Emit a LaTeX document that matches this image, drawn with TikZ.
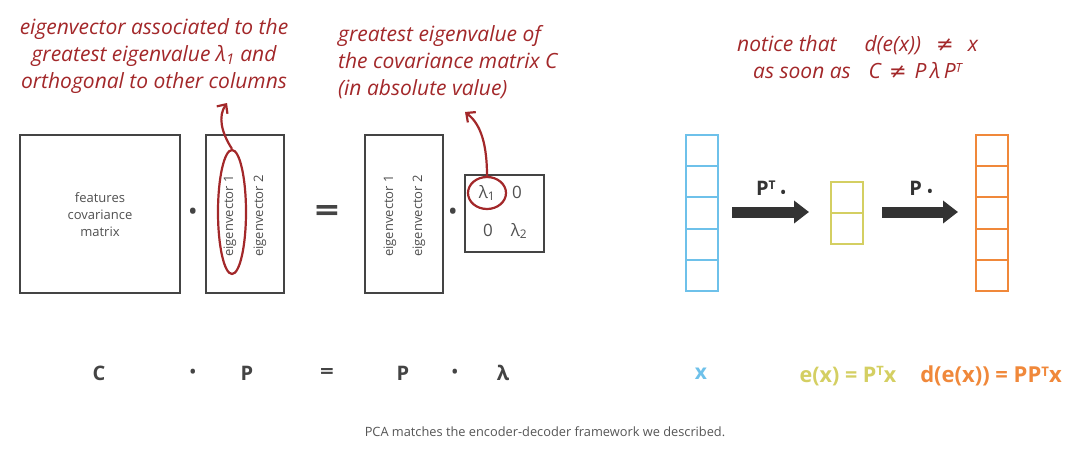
\documentclass[tikz,border=0pt]{standalone}
\usepackage{fontspec}
\setmainfont{Open Sans}
\newfontfamily\dejavu{DejaVu Sans}
\usetikzlibrary{arrows.meta,shapes.geometric,calc}
\definecolor{boxgray}{HTML}{444444}
\definecolor{txtgray}{HTML}{505050}
\definecolor{annot}{HTML}{A3282A}
\definecolor{xblue}{HTML}{6EC1EA}
\definecolor{eyellow}{HTML}{D4CF62}
\definecolor{dorange}{HTML}{F0883A}
\definecolor{arrowgray}{HTML}{333333}
\definecolor{capgray}{HTML}{555555}
\newcommand{\supT}{\raisebox{0.55ex}{\scalebox{0.6}{T}}}
\begin{document}
\begin{tikzpicture}[x=1pt,y=-1pt,
  mbox/.style={draw=boxgray, line width=1.8pt, rectangle, inner sep=0pt},
  boxtxt/.style={text=txtgray, font=\fontsize{13}{17}\selectfont, align=center, inner sep=0pt},
  eigtxt/.style={text=txtgray, font=\fontsize{13}{15}\selectfont, rotate=90, inner sep=0pt},
  entry/.style={text=txtgray, font=\fontsize{17}{20}\selectfont, inner sep=0pt},
  formula/.style={text=boxgray, font=\fontsize{20}{24}\bfseries\selectfont, inner sep=0pt},
  hand/.style={text=annot, font=\fontsize{21}{27}\itshape\selectfont, inner sep=0pt},
  redarrow/.style={annot, line width=2.2pt, -{Straight Barb[length=7pt,width=13pt,line width=2.2pt]}},
  col/.style={rectangle, line width=1.6pt, minimum width=32pt, inner sep=0pt},
  bigarrow/.style={arrowgray, line width=11pt, -{Triangle[length=15pt,width=22pt]}},
  arrlabel/.style={text=arrowgray, font=\fontsize{20}{22}\bfseries\selectfont, inner sep=0pt},
  dotsym/.style={text=boxgray, font=\fontsize{20}{22}\bfseries\selectfont, inner sep=0pt}
]
\useasboundingbox (0,0) rectangle (1080,450);
\fill[white] (0,0) rectangle (1080,450);

% ---------- left equation boxes ----------
\node[mbox, minimum width=160pt, minimum height=158pt] (box1) at (100,214) {};
\node[boxtxt] (box1t) at (100,215) {features\\covariance\\matrix};
\node[dotsym] (dot1) at (193,213) {•};
\node[mbox, minimum width=78pt, minimum height=158pt] (box2) at (245,214) {};
\node[eigtxt] (e21) at (230,216) {eigenvector 1};
\node[eigtxt] (e22) at (260,216) {eigenvector 2};
\node[text=boxgray, font=\fontsize{34}{36}\bfseries\selectfont, inner sep=0pt] (eq) at (327,214) {\scalebox{1.25}[1]{=}};
\node[mbox, minimum width=78pt, minimum height=158pt] (box3) at (404,214) {};
\node[eigtxt] (e31) at (390,216) {eigenvector 1};
\node[eigtxt] (e32) at (419,216) {eigenvector 2};
\node[dotsym] (dot2) at (453,213) {•};
\node[mbox, minimum width=79pt, minimum height=77pt] (box4) at (504.5,213.5) {};
\node[entry] (l1) at (487,193) {λ\textsubscript{1}};
\node[entry] (z1) at (517,192) {0};
\node[entry] (z2) at (488,230) {0};
\node[entry] (l2) at (519,231) {λ\textsubscript{2}};

% ---------- red annotations ----------
\node[draw=annot, line width=2.2pt, ellipse, minimum width=28pt, minimum height=124pt, inner sep=0pt] (ell) at (232,212) {};
\node[draw=annot, line width=2.2pt, ellipse, minimum width=38pt, minimum height=32pt, inner sep=0pt] (circ) at (487,193) {};
\node[hand, align=center] (ann1) at (154,56) {eigenvector associated to the\\greatest eigenvalue λ\textsubscript{1} and\\orthogonal to other columns};
\node[hand, align=left, anchor=west] (ann2) at (338,62) {greatest eigenvalue of\\the covariance matrix C\\(in absolute value)};
\node[hand, align=left, anchor=west] (ann3) at (737,57) {notice that\hspace{28pt}d(e(x))\hspace{15pt}{\upshape\dejavu ≠}\hspace{14pt}x\\\hspace*{16pt}as soon as\hspace{18pt}C\hspace{8pt}{\upshape\dejavu ≠}\hspace{8pt}P\,λ\,P\supT};
\coordinate (tip1) at (227,103);
\coordinate (tip2) at (465,112);
\draw[redarrow] (ell.north) .. controls (221,132) and (218,116) .. (tip1);
\draw[redarrow] (circ.north) .. controls (487,138) and (478,122) .. (tip2);

% ---------- encoder / decoder columns ----------
\node[col, draw=xblue, minimum height=156pt] (xcol) at (702,213) {};
\foreach \i in {1,...,4}
  \draw[xblue, line width=1.6pt] ($(xcol.north west)!\i/5!(xcol.south west)$) -- ($(xcol.north east)!\i/5!(xcol.south east)$);
\node[col, draw=eyellow, minimum height=62pt] (ecol) at (847,213) {};
\draw[eyellow, line width=1.6pt] (ecol.west) -- (ecol.east);
\node[col, draw=dorange, minimum height=156pt] (dcol) at (992,213) {};
\foreach \i in {1,...,4}
  \draw[dorange, line width=1.6pt] ($(dcol.north west)!\i/5!(dcol.south west)$) -- ($(dcol.north east)!\i/5!(dcol.south east)$);

\coordinate (a1s) at (732,212);
\coordinate (a1e) at (809,212);
\coordinate (a2s) at (882,212);
\coordinate (a2e) at (958,212);
\draw[bigarrow] (a1s) -- (a1e);
\draw[bigarrow] (a2s) -- (a2e);
\node[arrlabel] (lab1) at (771,189) {P\supT\ \raisebox{-0.15ex}{\scalebox{0.7}{•}}};
\node[arrlabel] (lab2) at (921,189) {P\ \raisebox{-0.15ex}{\scalebox{0.7}{•}}};

% ---------- bottom formulas ----------
\node[formula] (fC) at (99,373) {C};
\node[formula] (fd1) at (193,373) {\scalebox{0.8}{•}};
\node[formula] (fP1) at (247,373) {P};
\node[formula] (feq) at (327,373) {\scalebox{1.2}[1]{=}};
\node[formula] (fP2) at (403,373) {P};
\node[formula] (fd2) at (455,373) {\scalebox{0.8}{•}};
\node[formula] (fl) at (503,373) {λ};
\node[formula, text=xblue, font=\fontsize{21}{24}\bfseries\selectfont] (fx) at (701,374) {x};
\node[formula, text=eyellow, font=\fontsize{21.5}{24}\bfseries\selectfont] (fe) at (848,376) {e(x) = P\supT x};
\node[formula, text=dorange, font=\fontsize{22}{24}\bfseries\selectfont] (fdd) at (991,376) {d(e(x)) = PP\supT x};

% ---------- caption ----------
\node[text=capgray, font=\fontsize{12.8}{14}\selectfont, inner sep=0pt] (cap) at (545,432) {PCA matches the encoder-decoder framework we described.};
\end{tikzpicture}
\end{document}
